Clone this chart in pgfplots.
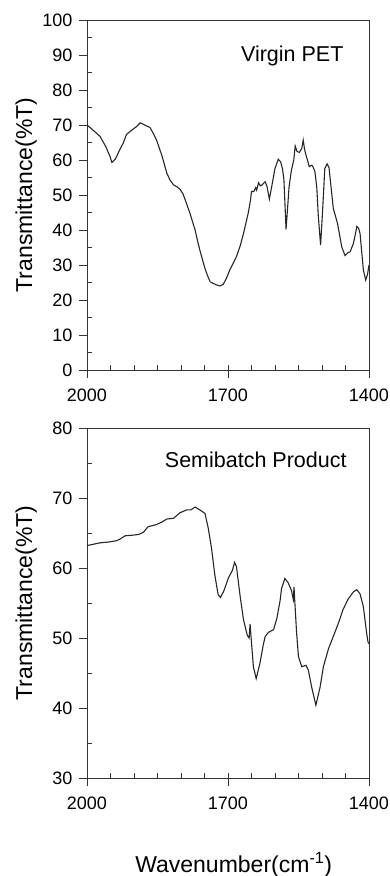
\documentclass[border=0pt]{standalone}
\usepackage{pgfplots}
\pgfplotsset{compat=1.18}
\usepackage{fontspec}
\setmainfont{Liberation Sans}
\begin{document}
\begin{tikzpicture}
\pgfplotsset{
  irstyle/.style={
    scale only axis, width=282pt, height=350pt,
    x dir=reverse, xmin=1400, xmax=2000,
    xtick={1400,1700,2000},
    minor xtick={1450,1500,...,1950},
    tick pos=left, tick align=outside,
    major tick length=8pt, minor tick length=-5pt,
    axis line style={line width=0.9pt, black!80},
    every tick/.style={line width=0.8pt, black!80},
    tick label style={font=\fontsize{18}{20}\selectfont},
    xticklabel style={yshift=-7pt},
    yticklabel style={xshift=-3pt},
    /pgf/number format/assume math mode=true,
    /pgf/number format/1000 sep={},
    label style={font=\fontsize{23}{26}\selectfont},
    ylabel={Transmittance(\%T)},
    ylabel style={at={(axis description cs:-0.216,0.5)}, anchor=center},
  },
  spectrum/.style={line width=1.1pt, black!85, no marks},
}

% Upper panel: virgin PET
\begin{axis}[irstyle, at={(0,408pt)}, anchor=south west,
  ymin=0, ymax=100, ytick={0,10,...,100}, minor y tick num=1]
\addplot[spectrum] coordinates {
(2000,70) (1985,68.3) (1972,66.7) (1960,63.8) (1951,61) (1947,59.3)
(1940,60.2) (1930,63) (1923,64.8) (1916,67.3) (1905,68.5) (1895,69.5)
(1887,70.6) (1880,70.2) (1873,69.7) (1866,69.3) (1859,67.6) (1852,65.7)
(1841,61.4) (1830,56.2) (1823,54.2) (1816,52.9) (1808,52.3) (1802,51.6)
(1796,50.4) (1791,48.6) (1781,44.8) (1770,40) (1765,37) (1760,34.3)
(1749,29) (1743,26.8) (1738,25.2) (1731,24.7) (1724,24.3) (1717,24)
(1710,24.5) (1704,26) (1696,28.6) (1689,30.5) (1682,32.4) (1674,35.5)
(1667,39) (1657,44.8) (1652,48.6) (1650,51) (1645,51) (1641,52.1)
(1639,51.4) (1635,53.5) (1631,52.6) (1628,52.8) (1621,53.8) (1617,52.5)
(1612,48.8) (1607,52.4) (1600,57.6) (1593,60.2) (1588,59.5) (1584,57.5)
(1581,54.3) (1578,45) (1576.5,40.2) (1574,44.8) (1570,52.4) (1565,57.1)
(1560,60) (1557,64) (1553,62.4) (1548,62.2) (1543,63.3) (1540,65.7)
(1537,63) (1534,61.4) (1527,58.1) (1522,58.5) (1520,58.3) (1515,56.7)
(1511,52) (1508,44.3) (1503,35.7) (1499,44.8) (1494,57.6) (1489,58.9)
(1485,57.8) (1483,55.2) (1476,46.2) (1467,41.9) (1458,35.2) (1451,32.7)
(1445,33.5) (1440,33.8) (1433,36.2) (1428,39.5) (1426,41) (1422,40.5)
(1419,39) (1412,28.6) (1407,25.7) (1403,27.4) (1400,30)
};
\node[font=\fontsize{21.5}{24}\selectfont, anchor=base east]
  at (axis description cs:0.922,0.88) {Virgin PET};
\end{axis}

% Lower panel: semibatch product
\begin{axis}[irstyle, at={(0,0)}, anchor=south west,
  ymin=30, ymax=80, ytick={30,40,...,80}, minor y tick num=1,
  xlabel={Wavenumber(cm\textsuperscript{-1})},
  xlabel style={at={(axis description cs:0.52,-0.271)}, anchor=base}]
\addplot[spectrum] coordinates {
(2000,63.2) (1986,63.4) (1972,63.6) (1955,63.7) (1937,63.9) (1928,64.2)
(1919,64.6) (1901,64.7) (1890,64.8) (1880,65.1) (1870,65.9) (1852,66.2)
(1840,66.6) (1830,67.0) (1816,67.1) (1802,67.9) (1788,68.3) (1779,68.3)
(1770,68.7) (1760,68.3) (1749,67.8) (1742,65.7) (1735,62.8) (1728,59.0)
(1721,56.2) (1716,55.8) (1709,56.7) (1699,58.6) (1691,59.6) (1686,60.8)
(1682,60.2) (1674,55.9) (1667,52.6) (1659,50.4) (1655,50.0) (1653,52.0)
(1651,50.2) (1646,45.9) (1640,44.2) (1632,46.4) (1625,49) (1621,50.2)
(1614,50.8) (1603,51.2) (1596,52.8) (1589,55.4) (1586,57.1) (1579,58.5)
(1572,57.9) (1565,56.8) (1561,55.5) (1559.5,57.3) (1558,55.4) (1554,50.7)
(1550,47.3) (1543,45.9) (1534,46.1) (1529,45.4) (1522,43.0) (1513,40.4)
(1504,43.0) (1497,45.9) (1486,48.5) (1472,50.9) (1463,52.5) (1455,54.1)
(1444,55.6) (1433,56.6) (1426,56.9) (1419,56.3) (1412,54.5) (1405,50.7)
(1402,49.4) (1400,49.2)
};
\node[font=\fontsize{21.5}{24}\selectfont, anchor=base east]
  at (axis description cs:0.933,0.886) {Semibatch Product};
\end{axis}

\pgfresetboundingbox
\path[use as bounding box] (-87pt,-98pt) rectangle (303pt,778pt);
\end{tikzpicture}
\end{document}
